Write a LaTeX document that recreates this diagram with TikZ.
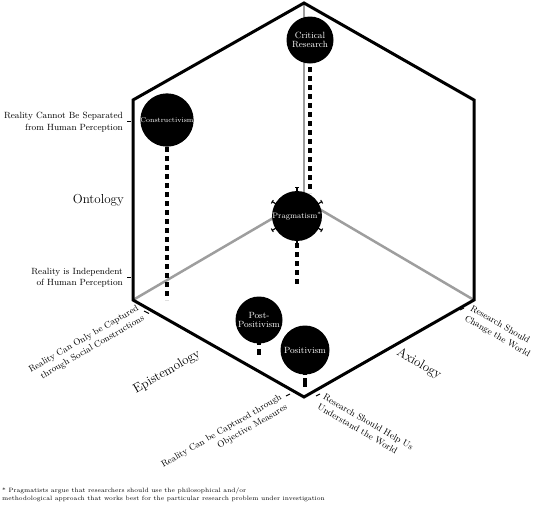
\documentclass[tikz,border=0pt]{standalone}
\usetikzlibrary{calc}
\begin{document}
\begin{tikzpicture}[x=1pt,y=-1pt,
  edge/.style={line width=3pt,line join=miter},
  inner/.style={line width=2.5pt,color=black!38},
  dotline/.style={line width=3.6pt,dash pattern=on 5pt off 4pt},
  para/.style={circle,fill=black,minimum size=47pt,inner sep=0pt,text=white,align=center,font=\fontsize{9}{10}\selectfont},
  lab/.style={font=\fontsize{9}{11.5}\selectfont,inner sep=0pt},
  axis/.style={font=\fontsize{13}{15}\selectfont,inner sep=0pt},
  tickmark/.style={line width=1pt}]
\useasboundingbox (0,0) rectangle (535,504);
% corners
\coordinate (T) at (304,3);
\coordinate (UL) at (133,100);
\coordinate (UR) at (474,100);
\coordinate (LL) at (133,300);
\coordinate (LR) at (474,300);
\coordinate (B) at (304,397);
\coordinate (C) at (304,200);
% inner grey edges
\draw[inner] (T) -- (C);
\draw[inner] (LL) -- (C) -- (LR);
% circles positions
\coordinate (crp) at (310,40);
\coordinate (cop) at (167,120);
\coordinate (prp) at (297,216);
\coordinate (ppp) at (259,320);
\coordinate (pop) at (305,350);
% dotted drops
\coordinate (crE) at (310,193);
\coordinate (coE) at (167,300);
\coordinate (prE) at (297,284);
\coordinate (ppE) at (259,357);
\coordinate (poE) at (305,387);
\draw[dotline] (crp) -- (crE);
\draw[dotline] (cop) -- (coE);
\draw[dotline] (prp) -- (prE);
\draw[dotline,dash pattern=on 4pt off 4pt on 6pt off 20pt] ($(ppp)+(0,21)$) -- (ppE);
\draw[dotline,dash pattern=on 3pt off 3pt on 9pt off 20pt] ($(pop)+(0,22)$) -- (poE);
% hexagon
\draw[edge] (T) -- (UR) -- (LR) -- (B) -- (LL) -- (UL) -- cycle;
% paradigm circles
\node[para] (cr) at (crp) {Critical\\[-1pt]Research};
\node[para,font=\fontsize{7}{8}\selectfont] (co) at (cop) {Constructivism};
\node[para,minimum size=49pt,font=\fontsize{8}{9}\selectfont] (pr) at (prp) {Pragmatism\textsuperscript{*}};
\node[para] (pp) at (ppp) {Post-\\[-1pt]Positivism};
\node[para,minimum size=49pt] (po) at (pop) {Positivism};
% pragmatism spikes
\foreach \a in {90,30,-30,-90,-150,150}{
  \draw[line width=1.2pt] ($(prp)+(\a:24)$) -- ($(prp)+(\a:29)$);
  \draw[line width=1pt] ($(prp)+(\a:28.5)+(\a+90:2)$) -- ($(prp)+(\a:28.5)+(\a-90:2)$);
}
% ontology labels
\node[lab,anchor=east,align=right] (o1) at (123,122) {Reality Cannot Be Separated\\from Human Perception};
\node[lab,anchor=east,align=right] (o2) at (123,277.5) {Reality is Independent\\of Human Perception};
\node[axis,anchor=east] (ont) at (124,200) {Ontology};
\draw[tickmark] (127,121) -- (131,121);
\draw[tickmark] (127,277) -- (131,277);
% epistemology labels
\node[lab,anchor=east,align=right,rotate=30] (e1) at (141,313) {Reality Can Only be Captured\\through Social Constructions};
\node[lab,anchor=east,align=right,rotate=30] (e2) at (284,402) {Reality Can be Captured through\\Objective Measures};
\node[axis,rotate=30] (epi) at (167,372) {Epistemology};
\draw[tickmark] (144,311) -- (149,313.5);
\draw[tickmark] (286,396) -- (290,394);
% axiology labels
\node[lab,anchor=west,align=left,rotate=-30] (a1) at (321,401) {Research Should Help Us\\Understand the World};
\node[lab,anchor=west,align=left,rotate=-30] (a2) at (468,313) {Research Should\\Change the World};
\node[axis,rotate=-30] (axi) at (419,364) {Axiology};
\draw[tickmark] (316,396) -- (320,394);
\draw[tickmark] (460,310) -- (464,308);
% footnote
\node[anchor=north west,align=left,inner sep=0pt,font=\fontsize{6.2}{8}\selectfont] (fn) at (2,487.5)
  {* Pragmatists argue that researchers should use the philosophical and/or\\methodological approach that works best for the particular research problem under investigation};
\end{tikzpicture}
\end{document}
